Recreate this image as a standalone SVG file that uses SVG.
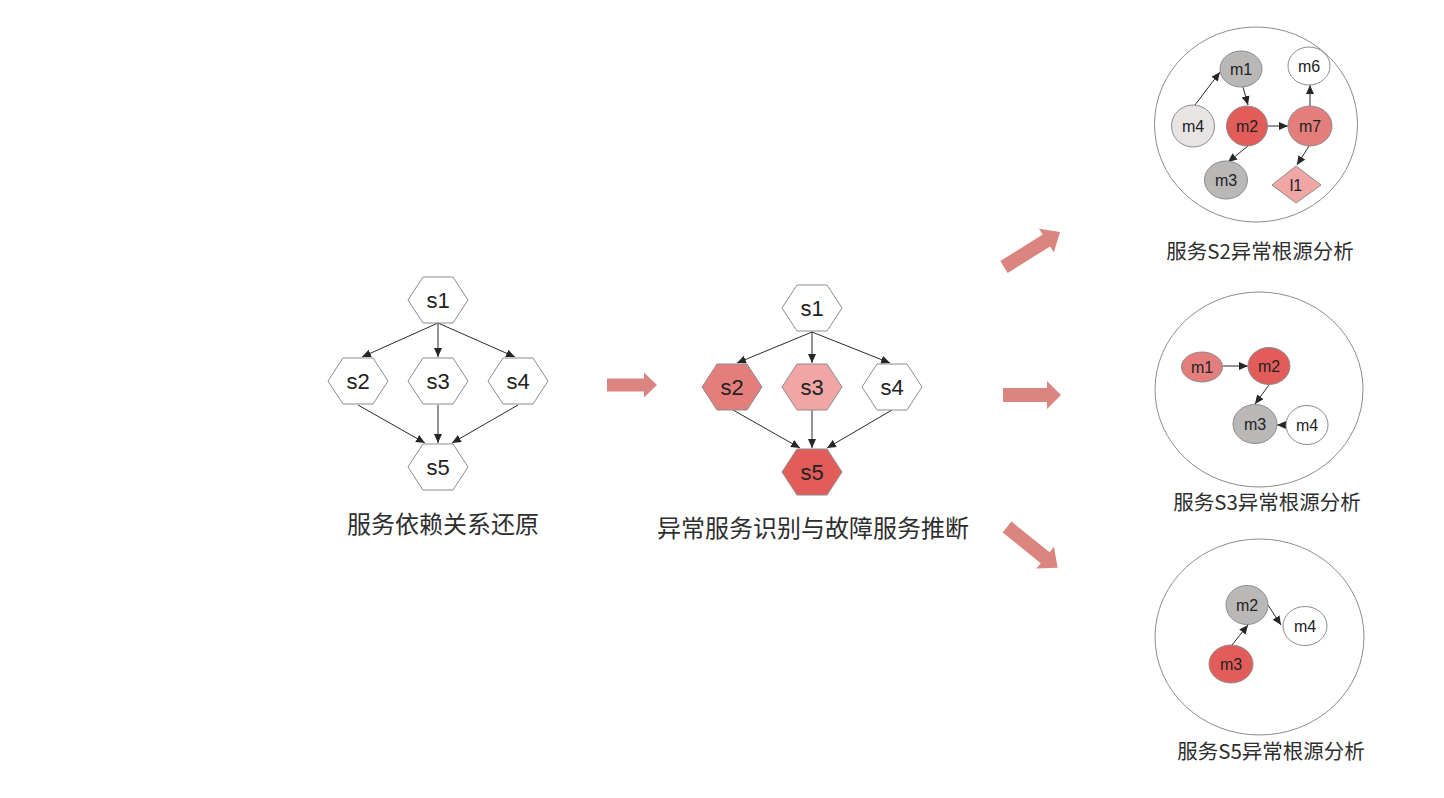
<svg xmlns="http://www.w3.org/2000/svg" width="1444" height="798" viewBox="0 0 1444 798">
  <defs>
    <marker id="tip" markerUnits="userSpaceOnUse" markerWidth="10" markerHeight="9" refX="9" refY="4" orient="auto">
      <path d="M0,0 L9,4 L0,8 z" fill="#262626"/>
    </marker>
    <polygon id="hex" points="-30,0 -15,-23 15,-23 30,0 15,23 -15,23"/>
  </defs>
  <style>
    .hx { stroke: #8c8c8c; stroke-width: 1; }
    .nd { stroke: #8c8c8c; stroke-width: 1; }
    .edge { stroke: #2b2b2b; stroke-width: 1; fill: none; marker-end: url(#tip); }
    .lbl { font-family: "Liberation Sans", Arial, sans-serif; fill: #222222; text-anchor: middle; }
    .s { font-size: 22px; }
    .m { font-size: 16px; }
    .cap { font-family: "Noto Sans CJK SC", "Noto Sans", sans-serif; fill: #2e2e2e; text-anchor: middle; }
    .big { font-size: 24px; }
    .small { font-size: 20.5px; }
    .ring { fill: #ffffff; stroke: #8c8c8c; stroke-width: 1; }
    .fat { fill: #db8580; }
    .white { fill: #ffffff; }
    .red { fill: #e25c5a; }
    .mid { fill: #e37e7c; }
    .pink { fill: #f0a6a5; }
    .grey { fill: #bab7b7; }
    .pale { fill: #e8e4e4; }
  </style>

  <rect width="1444" height="798" fill="#ffffff"/>

  <!-- Stage 1: service dependency graph -->
  <g id="stage1">
    <g id="edges1">
      <line class="edge" x1="438" y1="323" x2="362" y2="357"/>
      <line class="edge" x1="438" y1="323" x2="438" y2="357"/>
      <line class="edge" x1="438" y1="323" x2="515" y2="357"/>
      <line class="edge" x1="358" y1="405" x2="425" y2="443"/>
      <line class="edge" x1="438" y1="405" x2="438" y2="443"/>
      <line class="edge" x1="518" y1="405" x2="452" y2="443"/>
    </g>
    <g id="a-s1"><use href="#hex" x="438" y="300" class="hx white"/><text class="lbl s" x="438" y="308">s1</text></g>
    <g id="a-s2"><use href="#hex" x="358" y="381" class="hx white"/><text class="lbl s" x="358" y="389">s2</text></g>
    <g id="a-s3"><use href="#hex" x="438" y="381" class="hx white"/><text class="lbl s" x="438" y="389">s3</text></g>
    <g id="a-s4"><use href="#hex" x="518" y="381" class="hx white"/><text class="lbl s" x="518" y="389">s4</text></g>
    <g id="a-s5"><use href="#hex" x="438" y="467" class="hx white"/><text class="lbl s" x="438" y="475">s5</text></g>
    <text class="cap big" x="443" y="533">服务依赖关系还原</text>
  </g>

  <!-- Stage 2: abnormal services and fault inference -->
  <g id="stage2">
    <g id="edges2">
      <line class="edge" x1="812" y1="332" x2="737" y2="363"/>
      <line class="edge" x1="812" y1="332" x2="812" y2="363"/>
      <line class="edge" x1="812" y1="332" x2="890" y2="363"/>
      <line class="edge" x1="733" y1="410" x2="800" y2="448"/>
      <line class="edge" x1="812" y1="410" x2="812" y2="448"/>
      <line class="edge" x1="892" y1="410" x2="827" y2="448"/>
    </g>
    <g id="b-s1"><use href="#hex" x="812" y="308" class="hx white"/><text class="lbl s" x="812" y="316">s1</text></g>
    <g id="b-s2"><use href="#hex" x="732" y="387" class="hx mid"/><text class="lbl s" x="732" y="395">s2</text></g>
    <g id="b-s3"><use href="#hex" x="812" y="387" class="hx pink"/><text class="lbl s" x="812" y="395">s3</text></g>
    <g id="b-s4"><use href="#hex" x="892" y="387" class="hx white"/><text class="lbl s" x="892" y="395">s4</text></g>
    <g id="b-s5"><use href="#hex" x="812" y="472" class="hx red"/><text class="lbl s" x="812" y="480">s5</text></g>
    <text class="cap big" x="813" y="537">异常服务识别与故障服务推断</text>
  </g>

  <!-- Flow arrows between stages -->
  <g id="flow">
    <path class="fat" d="M607,378.5 L644,378.5 L644,372.5 L657,385 L644,397.5 L644,391.5 L607,391.5 z"/>
    <path class="fat" transform="translate(1004,267) rotate(-32)" d="M0,-7 L50,-7 L50,-14 L66,0 L50,14 L50,7 L0,7 z"/>
    <path class="fat" d="M1003,388 L1047,388 L1047,381 L1061,395 L1047,409 L1047,402 L1003,402 z"/>
    <path class="fat" transform="translate(1007,527) rotate(38.8)" d="M0,-7 L49,-7 L49,-14 L65,0 L49,14 L49,7 L0,7 z"/>
  </g>

  <!-- Root cause analysis for S2 -->
  <g id="rca-s2">
    <ellipse class="ring" cx="1256" cy="124.5" rx="101.5" ry="97.5"/>
    <g id="edges-s2">
      <line class="edge" x1="1195" y1="105" x2="1220" y2="72"/>
      <line class="edge" x1="1243" y1="87" x2="1248" y2="105"/>
      <line class="edge" x1="1268" y1="126" x2="1288" y2="126"/>
      <line class="edge" x1="1310" y1="106" x2="1310" y2="85"/>
      <line class="edge" x1="1248" y1="146" x2="1228" y2="162"/>
      <line class="edge" x1="1309" y1="146" x2="1297" y2="165"/>
    </g>
    <g id="s2-m1"><ellipse class="nd grey" cx="1241" cy="69" rx="21" ry="18"/><text class="lbl m" x="1241" y="75">m1</text></g>
    <g id="s2-m6"><ellipse class="nd white" cx="1309" cy="66" rx="21" ry="19"/><text class="lbl m" x="1309" y="72">m6</text></g>
    <g id="s2-m4"><ellipse class="nd pale" cx="1193" cy="126" rx="21.5" ry="21"/><text class="lbl m" x="1193" y="132">m4</text></g>
    <g id="s2-m2"><ellipse class="nd red" cx="1247" cy="126" rx="20.5" ry="20"/><text class="lbl m" x="1247" y="132">m2</text></g>
    <g id="s2-m7"><ellipse class="nd mid" cx="1310" cy="126" rx="22" ry="20"/><text class="lbl m" x="1310" y="132">m7</text></g>
    <g id="s2-m3"><ellipse class="nd grey" cx="1226" cy="180" rx="21.5" ry="19"/><text class="lbl m" x="1226" y="186">m3</text></g>
    <g id="s2-l1"><polygon class="nd pink" points="1272,185 1296,166 1321,185 1296,203"/><text class="lbl m" x="1296" y="191">l1</text></g>
    <text class="cap small" x="1260" y="259">服务S2异常根源分析</text>
  </g>

  <!-- Root cause analysis for S3 -->
  <g id="rca-s3">
    <ellipse class="ring" cx="1259" cy="389.5" rx="104" ry="97.5"/>
    <g id="edges-s3">
      <line class="edge" x1="1223" y1="366" x2="1248" y2="366"/>
      <line class="edge" x1="1269" y1="385" x2="1255" y2="404"/>
      <line class="edge" x1="1287" y1="425" x2="1277" y2="425"/>
    </g>
    <g id="s3-m1"><ellipse class="nd mid" cx="1202" cy="367" rx="20.5" ry="15"/><text class="lbl m" x="1202" y="373">m1</text></g>
    <g id="s3-m2"><ellipse class="nd red" cx="1269" cy="366" rx="21" ry="18.5"/><text class="lbl m" x="1269" y="372">m2</text></g>
    <g id="s3-m3"><ellipse class="nd grey" cx="1255" cy="424" rx="22" ry="19.5"/><text class="lbl m" x="1255" y="430">m3</text></g>
    <g id="s3-m4"><ellipse class="nd white" cx="1307" cy="425" rx="21" ry="19.5"/><text class="lbl m" x="1307" y="431">m4</text></g>
    <text class="cap small" x="1267" y="510">服务S3异常根源分析</text>
  </g>

  <!-- Root cause analysis for S5 -->
  <g id="rca-s5">
    <ellipse class="ring" cx="1259.5" cy="637" rx="104.5" ry="98"/>
    <g id="edges-s5">
      <line class="edge" x1="1232" y1="645" x2="1248" y2="625"/>
      <line class="edge" x1="1268" y1="605" x2="1281" y2="625"/>
    </g>
    <g id="s5-m2"><ellipse class="nd grey" cx="1247" cy="605" rx="21" ry="19.5"/><text class="lbl m" x="1247" y="611">m2</text></g>
    <g id="s5-m4"><ellipse class="nd white" cx="1305" cy="626" rx="22" ry="19.5"/><text class="lbl m" x="1305" y="632">m4</text></g>
    <g id="s5-m3"><ellipse class="nd red" cx="1231" cy="664" rx="22" ry="19"/><text class="lbl m" x="1231" y="670">m3</text></g>
    <text class="cap small" x="1271" y="759">服务S5异常根源分析</text>
  </g>
</svg>
